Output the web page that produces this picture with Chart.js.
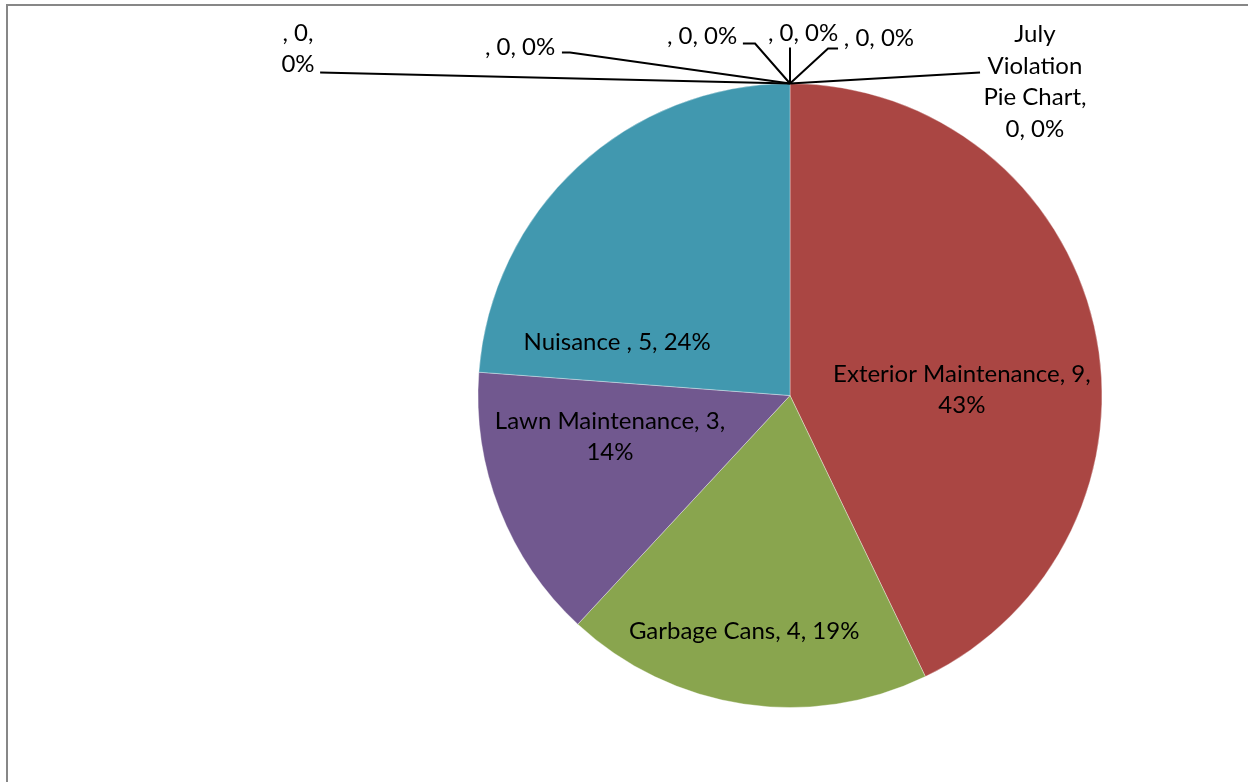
<!DOCTYPE html>
<html>
<head>
<meta charset="utf-8">
<script src="https://cdn.jsdelivr.net/npm/chart.js@4"></script>
<style>
  html, body { margin: 0; padding: 0; background: #ffffff; }
  #wrap { position: relative; width: 1248px; height: 782px; }
</style>
</head>
<body>
<div id="wrap"><canvas id="c"></canvas></div>
<script>
// ---- data ----
const categories = ['July Violation Pie Chart', 'Exterior Maintenance', 'Garbage Cans', 'Lawn Maintenance', 'Nuisance ', '', '', '', '', ''];
const values = [0, 9, 4, 3, 5, 0, 0, 0, 0, 0];
const sliceColors = ['#4572A7', '#AA4643', '#89A54E', '#71588F', '#4198AF', '#DB843D', '#93A9CF', '#D19392', '#B9CD96', '#A99BBD'];

// label layout, in units of the pie radius relative to pie centre
// pos: label centre; wrap: max line width (px); leader: polyline points from pie edge to label
const labelLayout = [
  { pos: [0.785, -1.005], wrap: 115, leader: [[0.609, -1.035]] },
  { pos: [0.551, -0.019], wrap: 285 },
  { pos: [-0.147, 0.756], wrap: 400 },
  { pos: [-0.577, 0.133], wrap: 255 },
  { pos: [-0.554, -0.170], wrap: 400 },
  { pos: [0.285, -1.144], wrap: 200, leader: [[0.122, -1.112], [0.154, -1.112]] },
  { pos: [0.042, -1.160], wrap: 200, leader: [[0.0, -1.115]] },
  { pos: [-0.282, -1.151], wrap: 200, leader: [[-0.112, -1.128], [-0.151, -1.128]] },
  { pos: [-0.865, -1.115], wrap: 200, leader: [[-0.705, -1.099], [-0.731, -1.099]] },
  { pos: [-1.577, -1.112], wrap: 50, leader: [[-1.506, -1.035]] }
];

const FONT = '24px Lato';
const LINE_H = 31.5;

function wrapText(ctx, text, maxW) {
  const words = text.split(' ');
  const lines = [];
  let cur = '';
  for (const w of words) {
    const t = cur ? cur + ' ' + w : w;
    if (cur && ctx.measureText(t).width > maxW) { lines.push(cur); cur = w; }
    else cur = t;
  }
  if (cur) lines.push(cur);
  return lines;
}

const frame = {
  id: 'frame',
  beforeDraw(chart) {
    const ctx = chart.ctx;
    ctx.save();
    ctx.fillStyle = '#ffffff';
    ctx.fillRect(0, 0, chart.width, chart.height);
    ctx.strokeStyle = '#878787';
    ctx.lineWidth = 2;
    ctx.beginPath();
    ctx.moveTo(7, chart.height);
    ctx.lineTo(7, 5);
    ctx.lineTo(chart.width, 5);
    ctx.stroke();
    ctx.restore();
  }
};

const dataLabels = {
  id: 'dataLabels',
  afterDatasetsDraw(chart) {
    const ctx = chart.ctx;
    const meta = chart.getDatasetMeta(0);
    const total = values.reduce((a, b) => a + b, 0);
    ctx.save();
    ctx.font = FONT;
    ctx.fillStyle = '#000000';
    ctx.textAlign = 'center';
    ctx.textBaseline = 'middle';
    meta.data.forEach((arc, i) => {
      const cx = arc.x, cy = arc.y, R = arc.outerRadius;
      const lay = labelLayout[i];
      const pct = Math.round(values[i] / total * 100);
      const txt = categories[i] + ', ' + values[i] + ', ' + pct + '%';
      const lines = wrapText(ctx, txt, lay.wrap);
      const lx = cx + lay.pos[0] * R;
      const ly = cy + lay.pos[1] * R;
      if (lay.leader) {
        const a = arc.startAngle;
        ctx.beginPath();
        ctx.strokeStyle = '#000000';
        ctx.lineWidth = 2;
        ctx.moveTo(cx + Math.cos(a) * R, cy + Math.sin(a) * R);
        lay.leader.forEach(p => ctx.lineTo(cx + p[0] * R, cy + p[1] * R));
        ctx.stroke();
      }
      const y0 = ly - (lines.length - 1) * LINE_H / 2;
      lines.forEach((ln, k) => ctx.fillText(ln, lx, y0 + k * LINE_H));
    });
    ctx.restore();
  }
};

new Chart(document.getElementById('c'), {
  type: 'pie',
  data: {
    labels: categories,
    datasets: [{
      data: values,
      backgroundColor: sliceColors,
      borderColor: 'rgba(255,255,255,0.35)',
      borderWidth: values.map(v => v ? 1 : 0)
    }]
  },
  options: {
    responsive: true,
    maintainAspectRatio: false,
    animation: false,
    layout: { padding: { left: 332, right: 0, top: 83, bottom: 74 } },
    plugins: { legend: { display: false }, tooltip: { enabled: false } }
  },
  plugins: [frame, dataLabels]
});
</script>
</body>
</html>
